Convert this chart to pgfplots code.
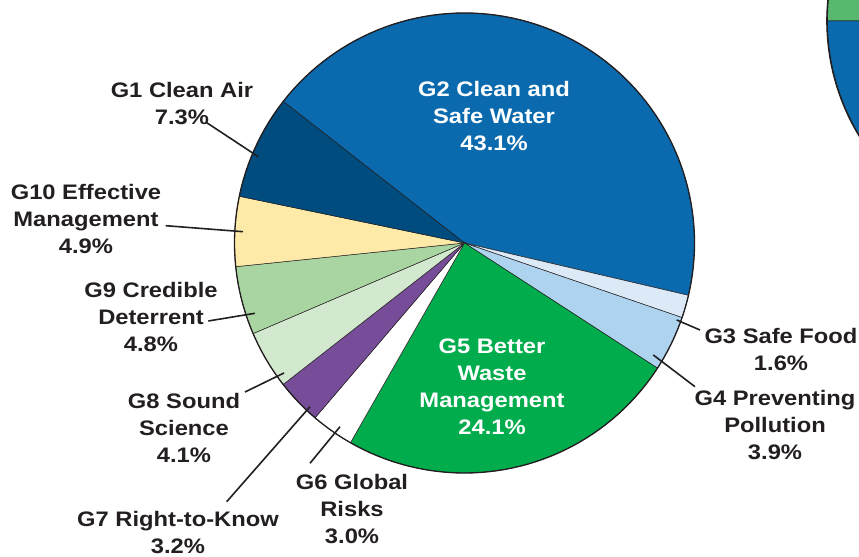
\documentclass[border=0pt]{standalone}
\usepackage{fontspec}
\setmainfont{Liberation Sans}[FakeStretch=1.13]
\usepackage{pgfplots}
\pgfplotsset{compat=1.18}
\definecolor{cG1}{HTML}{004C7E}
\definecolor{cG2}{HTML}{0A6AAD}
\definecolor{cG3}{HTML}{DCEAF8}
\definecolor{cG4}{HTML}{AED3EF}
\definecolor{cG5}{HTML}{00AC4C}
\definecolor{cG6}{HTML}{FFFFFF}
\definecolor{cG7}{HTML}{774C98}
\definecolor{cG8}{HTML}{D3E9CF}
\definecolor{cG9}{HTML}{A9D5A3}
\definecolor{cG10}{HTML}{FEEAA8}
\definecolor{cGreenB}{HTML}{58B96E}
\definecolor{edge}{HTML}{231F20}
\definecolor{txt}{HTML}{231F20}
% anchor=base of a multi-line node = baseline of its last line
\tikzset{lbl/.style={font=\fontsize{21bp}{27bp}\selectfont\bfseries, text=txt, align=center, anchor=base, inner sep=0pt}}
% pie geometry (axis units = bp = reference pixels)
\def\cx{464.5}\def\cy{314}\def\rr{230}\def\sa{142}
% \pieslice{cumulative share before slice (%)}{share (%)}{colour}
\newcommand\pieslice[3]{%
  \pgfmathsetmacro\pa{\sa-3.6*#1}%
  \pgfmathsetmacro\pb{\sa-3.6*(#1+#2)}%
  \edef\temp{\noexpand\addplot[fill=#3, draw=edge, line width=0.5bp, domain=\pb:\pa, samples=90, variable=\noexpand\t]
    ({\cx+\rr*cos(\noexpand\t)},{\cy+\rr*sin(\noexpand\t)}) -- (axis cs:\cx,\cy) -- cycle;}%
  \temp}
\begin{document}
\begin{tikzpicture}
\begin{axis}[
  x=1bp, y=1bp, xmin=0, xmax=859, ymin=0, ymax=557,
  hide axis, clip=true,
]
% second pie, partly visible at the top right
\addplot[fill=cGreenB, draw=edge, line width=0.5bp, domain=90:180, samples=60, variable=\t]
  ({1048+221*cos(\t)},{536+221*sin(\t)}) -- (axis cs:1048,536) -- cycle;
\addplot[fill=cG2, draw=edge, line width=0.5bp, domain=180:270, samples=60, variable=\t]
  ({1048+221*cos(\t)},{536+221*sin(\t)}) -- (axis cs:1048,536) -- cycle;
\addplot[draw=edge, line width=1.6bp, domain=90:270, samples=90, variable=\t]
  ({1048+221*cos(\t)},{536+221*sin(\t)});
% main pie: shares in percent
\pieslice{0}{43.1}{cG2}
\pieslice{43.1}{1.6}{cG3}
\pieslice{44.7}{3.9}{cG4}
\pieslice{48.6}{24.1}{cG5}
\pieslice{72.7}{3.0}{cG6}
\pieslice{75.7}{3.2}{cG7}
\pieslice{78.9}{4.1}{cG8}
\pieslice{83.0}{4.8}{cG9}
\pieslice{87.8}{4.9}{cG10}
\pieslice{92.7}{7.3}{cG1}
\addplot[draw=edge, line width=1.3bp, domain=0:360, samples=181, variable=\t]
  ({\cx+\rr*cos(\t)},{\cy+\rr*sin(\t)});
% leader lines
\addplot[edge, line width=1.6bp] coordinates {(206.7,434.3) (258.3,400.3)};
\addplot[edge, line width=1.6bp] coordinates {(165.7,331.3) (243,325.3)};
\addplot[edge, line width=1.6bp] coordinates {(208.3,236) (255,243.7)};
\addplot[edge, line width=1.6bp] coordinates {(245,165) (284,184)};
\addplot[edge, line width=1.6bp] coordinates {(226.7,55.3) (310,150.3)};
\addplot[edge, line width=1.6bp] coordinates {(310,93.7) (340,130.3)};
\addplot[edge, line width=1.6bp] coordinates {(676.7,237) (700,227)};
\addplot[edge, line width=1.6bp] coordinates {(653.3,202) (695,170.3)};
% labels (placed at the baseline of their last line)
\node[lbl] at (axis cs:182,432) {G1 Clean Air\\7.3\%};
\node[lbl, text=white] at (axis cs:494,406.3) {G2 Clean and\\Safe Water\\43.1\%};
\node[lbl] at (axis cs:86,303) {G10 Effective\\Management\\4.9\%};
\node[lbl] at (axis cs:151,205.3) {G9 Credible\\Deterrent\\4.8\%};
\node[lbl] at (axis cs:184,94.3) {G8 Sound\\Science\\4.1\%};
\node[lbl] at (axis cs:178,3.3) {G7 Right-to-Know\\3.2\%};
\node[lbl] at (axis cs:352,13.7) {G6 Global\\Risks\\3.0\%};
\node[lbl, text=white] at (axis cs:492,122) {G5 Better\\Waste\\Management\\24.1\%};
\node[lbl] at (axis cs:775,97.7) {G4 Preventing\\Pollution\\3.9\%};
\node[lbl] at (axis cs:781,186) {G3 Safe Food\\1.6\%};
\end{axis}
\pgfresetboundingbox
\path[use as bounding box] (current axis.south west) rectangle (current axis.north east);
\end{tikzpicture}
\end{document}
